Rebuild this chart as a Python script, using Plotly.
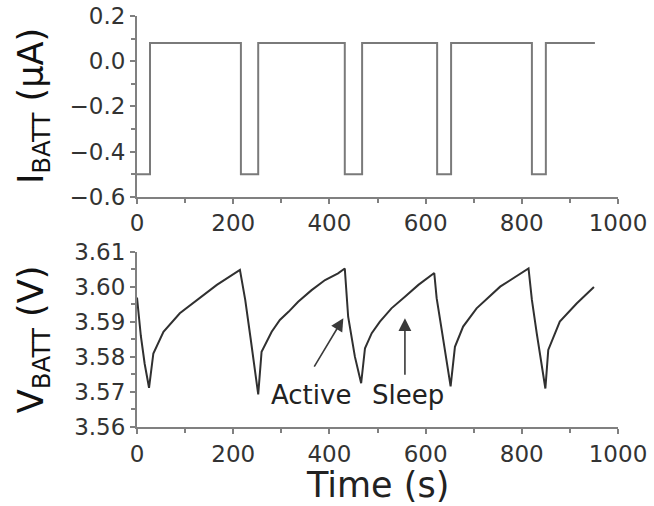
import plotly.graph_objects as go

# ---- Data ----
# Battery current (square wave), step times (s) and values (uA)
i_time = [0, 27, 216, 252, 432, 468, 624, 653, 821, 850, 952]
i_batt = [-0.5, 0.08, -0.5, 0.08, -0.5, 0.08, -0.5, 0.08, -0.5, 0.08, 0.08]

# Battery voltage (V) vs time (s)
v_time = [0, 8, 16, 25, 34, 55, 89, 124, 166, 214,
          225, 236, 245, 252, 259, 270, 280, 297, 315, 335, 363, 391, 418, 432,
          439, 453, 466, 474, 488, 505, 529, 557, 585, 618,
          623, 633, 644, 652, 661, 678, 706, 755, 814,
          821, 831, 841, 849, 855, 879, 914, 950]
v_batt = [3.597, 3.586, 3.578, 3.5712, 3.581, 3.5872, 3.5925, 3.5963, 3.6006, 3.6049,
          3.5963, 3.5855, 3.5763, 3.5693, 3.5815, 3.5844, 3.5872, 3.5906, 3.5929, 3.5958, 3.5991, 3.602, 3.6039, 3.6053,
          3.5915, 3.5801, 3.5725, 3.5825, 3.5868, 3.5901, 3.5939, 3.5972, 3.6006, 3.604,
          3.5968, 3.5882, 3.5787, 3.5716, 3.5829, 3.5887, 3.5939, 3.6001, 3.6053,
          3.5963, 3.5868, 3.5782, 3.571, 3.582, 3.5901, 3.5953, 3.6000]

x_ticks = [0, 200, 400, 600, 800, 1000]
i_ticks = [-0.6, -0.4, -0.2, 0.0, 0.2]
v_ticks = [3.56, 3.57, 3.58, 3.59, 3.60, 3.61]

# annotation labels: (text, time, voltage)
labels = [("Active", 362, 3.5692), ("Sleep", 563, 3.5692)]
# arrows: (tip time, tip voltage, tail dx px, tail dy px)
arrows = [(429, 3.5911, -30, 50), (557, 3.5911, 0, 58)]

FONT = "DejaVu Sans"
AXC = "#808080"

fig = go.Figure()
fig.add_trace(go.Scatter(x=i_time, y=i_batt, mode="lines", line_shape="hv",
                         line=dict(color="#7a7a7a", width=2), xaxis="x", yaxis="y",
                         showlegend=False))
fig.add_trace(go.Scatter(x=v_time, y=v_batt, mode="lines",
                         line=dict(color="#303030", width=2), xaxis="x2", yaxis="y2",
                         showlegend=False))

common_x = dict(range=[0, 1000], tickvals=x_ticks, showline=True, linecolor=AXC, linewidth=2,
                ticks="outside", ticklen=5, tickwidth=2, tickcolor=AXC, automargin=False,
                minor=dict(dtick=100, ticks="outside", ticklen=4, tickwidth=2, tickcolor=AXC, showgrid=False),
                showgrid=False, zeroline=False,
                tickfont=dict(family=FONT, size=23, color="#333"))
common_y = dict(showline=True, linecolor=AXC, linewidth=2, automargin=False,
                ticks="outside", ticklen=5, tickwidth=2, tickcolor=AXC,
                showgrid=False, zeroline=False,
                tickfont=dict(family=FONT, size=23, color="#333"))

annos = [
    dict(text="I<sub>BATT</sub> (μA)", xref="paper", yref="paper", x=-0.216, y=0.781,
         textangle=-90, showarrow=False, xanchor="center", yanchor="middle",
         font=dict(family=FONT, size=35, color="#111")),
    dict(text="V<sub>BATT</sub> (V)", xref="paper", yref="paper", x=-0.216, y=0.214,
         textangle=-90, showarrow=False, xanchor="center", yanchor="middle",
         font=dict(family=FONT, size=35, color="#111")),
    dict(text="Time (s)", xref="paper", yref="paper", x=0.5, y=-0.141,
         showarrow=False, xanchor="center", yanchor="middle",
         font=dict(family=FONT, size=35, color="#222")),
]
for txt, tx, ty in labels:
    annos.append(dict(text=txt, x=tx, y=ty, xref="x2", yref="y2", showarrow=False,
                      xanchor="center", yanchor="middle",
                      font=dict(family=FONT, size=26, color="#222")))
for tx, ty, dx, dy in arrows:
    annos.append(dict(text="", x=tx, y=ty, xref="x2", yref="y2", showarrow=True,
                      ax=dx, ay=dy, arrowhead=2, arrowsize=1.6, arrowwidth=1.6,
                      arrowcolor="#3a3a3a"))

fig.update_layout(
    width=654, height=506,
    margin=dict(l=137, r=36, t=16, b=79),
    paper_bgcolor="white", plot_bgcolor="white",
    xaxis=dict(domain=[0, 1], anchor="y", **common_x),
    yaxis=dict(domain=[0.5603, 1.0], anchor="x", range=[-0.6, 0.2], tickvals=i_ticks,
               tickformat=".1f",
               minor=dict(dtick=0.1, ticks="outside", ticklen=4, tickwidth=2, tickcolor=AXC, showgrid=False),
               **common_y),
    xaxis2=dict(domain=[0, 1], anchor="y2", **common_x),
    yaxis2=dict(domain=[0, 0.4258], anchor="x2", range=[3.56, 3.61], tickvals=v_ticks,
                tickformat=".2f",
                minor=dict(dtick=0.005, ticks="outside", ticklen=4, tickwidth=2, tickcolor=AXC, showgrid=False),
                **common_y),
    annotations=annos,
)

fig.write_html("out.html", config={"displayModeBar": False},
               post_script="document.body.style.margin='0';document.body.style.overflow='hidden';")
